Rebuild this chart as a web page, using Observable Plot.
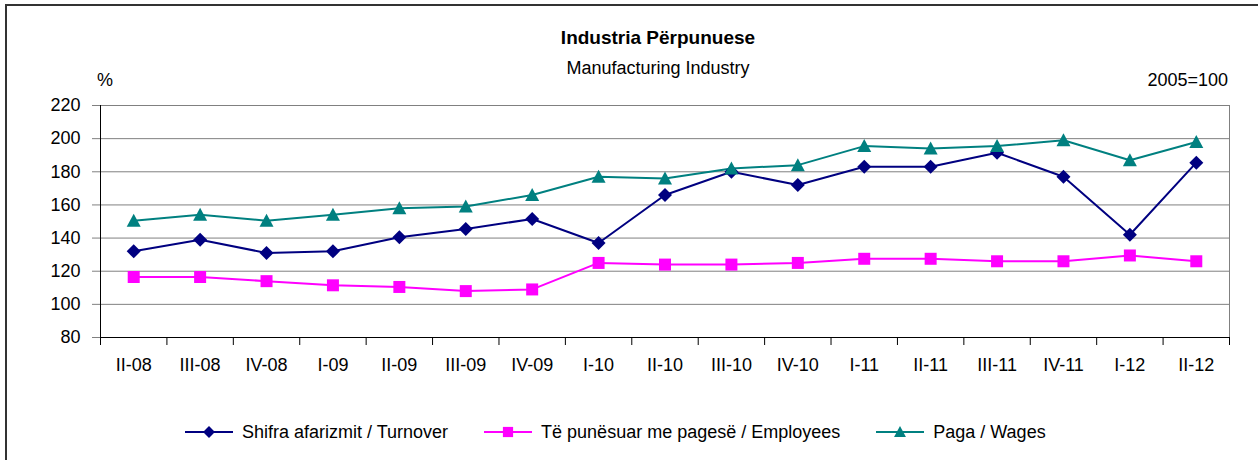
<!DOCTYPE html>
<html>
<head>
<meta charset="utf-8">
<script src="https://cdn.jsdelivr.net/npm/d3@7"></script>
<script src="https://cdn.jsdelivr.net/npm/@observablehq/plot@0.6"></script>
<style>
html, body { margin: 0; padding: 0; background: #fff; overflow: hidden; }
#wrap { position: relative; width: 1258px; height: 460px; font-family: "Liberation Sans", Arial, sans-serif; color: #000; overflow: hidden; }
#chart { position: absolute; left: 0; top: 0; }
#border { position: absolute; left: 5px; top: 4px; width: 1400px; height: 600px; border: 2px solid #333; box-sizing: border-box; pointer-events: none; }
.t { position: absolute; font-size: 18px; line-height: 18px; white-space: nowrap; }
#title { left: 358px; width: 600px; top: 28px; text-align: center; font-weight: bold; font-size: 19px; line-height: 19px; }
#subtitle { left: 358px; width: 600px; top: 59px; text-align: center; }
#unit { left: 97px; top: 71px; }
#base { right: 30px; top: 71px; }
#legend { position: absolute; left: 185px; top: 423px; height: 18px; display: flex; align-items: center; font-size: 18px; line-height: 18px; white-space: nowrap; }
#legend .li { display: flex; align-items: center; margin-right: 36px; }
#legend svg { margin-right: 9px; display: block; }
</style>
</head>
<body>
<div id="wrap">
  <div id="chart"></div>
  <div class="t" id="title">Industria Përpunuese</div>
  <div class="t" id="subtitle">Manufacturing Industry</div>
  <div class="t" id="unit">%</div>
  <div class="t" id="base">2005=100</div>
  <div id="legend"></div>
  <div id="border"></div>
</div>
<script>
// ---- data ----
const categories = ["II-08","III-08","IV-08","I-09","II-09","III-09","IV-09","I-10","II-10","III-10","IV-10","I-11","II-11","III-11","IV-11","I-12","II-12"];
const seriesNames = ["Shifra afarizmit / Turnover", "Të punësuar me pagesë / Employees", "Paga / Wages"];
const turnover  = [132, 139, 131, 132, 140.5, 145.5, 151.5, 137, 166, 180, 172, 183, 183, 191.5, 177, 142, 185.5];
const employees = [116.5, 116.5, 114, 111.5, 110.5, 108, 109, 125, 124, 124, 125, 127.5, 127.5, 126, 126, 129.5, 126];
const wages     = [150.5, 154, 150.5, 154, 158, 159, 166, 177, 176, 182, 184, 195.5, 194, 195.5, 199, 187, 198];
const yTicks = [80, 100, 120, 140, 160, 180, 200, 220];
const seriesColors = ["#000080", "#FF00FF", "#008080"];

// ---- symbols ----
const diamondSym = {draw(ctx) { const h = 7; ctx.moveTo(0, -h); ctx.lineTo(h, 0); ctx.lineTo(0, h); ctx.lineTo(-h, 0); ctx.closePath(); }};
const squareSym = {draw(ctx) { const h = 6; ctx.moveTo(-h, -h); ctx.lineTo(h, -h); ctx.lineTo(h, h); ctx.lineTo(-h, h); ctx.closePath(); }};
const triangleSym = {draw(ctx) { ctx.moveTo(0, -7); ctx.lineTo(7, 6); ctx.lineTo(-7, 6); ctx.closePath(); }};
const symbols = [diamondSym, squareSym, triangleSym];

const seriesValues = [turnover, employees, wages];
const rows = seriesNames.flatMap((name, s) => seriesValues[s].map((v, i) => ({series: name, i, value: v})));

const xDomain = [-0.5, categories.length - 0.5];
const yDomain = [d3.min(yTicks), d3.max(yTicks)];

const plot = Plot.plot({
  width: 1258,
  height: 460,
  marginLeft: 100,
  marginRight: 29,
  marginTop: 105,
  marginBottom: 123,
  x: {domain: xDomain},
  y: {domain: yDomain},
  style: {fontFamily: '"Liberation Sans", Arial, sans-serif', fontSize: "18px", background: "transparent", color: "black", overflow: "visible"},
  marks: [
    Plot.ruleY(yTicks, {stroke: "#808080", strokeWidth: 1}),
    Plot.ruleX([xDomain[1]], {stroke: "#808080"}),
    Plot.axisY({ticks: yTicks, tickSize: 8, tickPadding: 12, stroke: "#808080", fill: "black", label: null, tickFormat: d => String(d)}),
    Plot.axisX({ticks: d3.range(categories.length + 1).map(i => i - 0.5), tickSize: 8, stroke: "black", fill: "none", label: null}),
    Plot.axisX({ticks: d3.range(categories.length), tickSize: 0, tickPadding: 21, fill: "black", label: null, tickFormat: i => categories[i]}),
    Plot.ruleX([xDomain[0]], {stroke: "black"}),
    Plot.ruleY([yDomain[0]], {stroke: "black"}),
    ...seriesNames.map((name, s) => Plot.line(rows.filter(r => r.series === name), {x: "i", y: "value", stroke: seriesColors[s], strokeWidth: 2})),
    ...seriesNames.map((name, s) => Plot.dot(rows.filter(r => r.series === name), {x: "i", y: "value", symbol: symbols[s], fill: seriesColors[s], stroke: "none", r: 6}))
  ]
});
document.getElementById("chart").appendChild(plot);

// ---- legend ----
const legend = d3.select("#legend");
seriesNames.forEach((name, s) => {
  const item = legend.append("span").attr("class", "li");
  const sw = item.append("svg").attr("width", 48).attr("height", 16);
  sw.append("line").attr("x1", 0).attr("x2", 48).attr("y1", 8).attr("y2", 8).attr("stroke", seriesColors[s]).attr("stroke-width", 2);
  sw.append("path").attr("d", d3.symbol(symbols[s])()).attr("transform", "translate(24,8) scale(0.85)").attr("fill", seriesColors[s]);
  item.append("span").text(name);
});
</script>
</body>
</html>
